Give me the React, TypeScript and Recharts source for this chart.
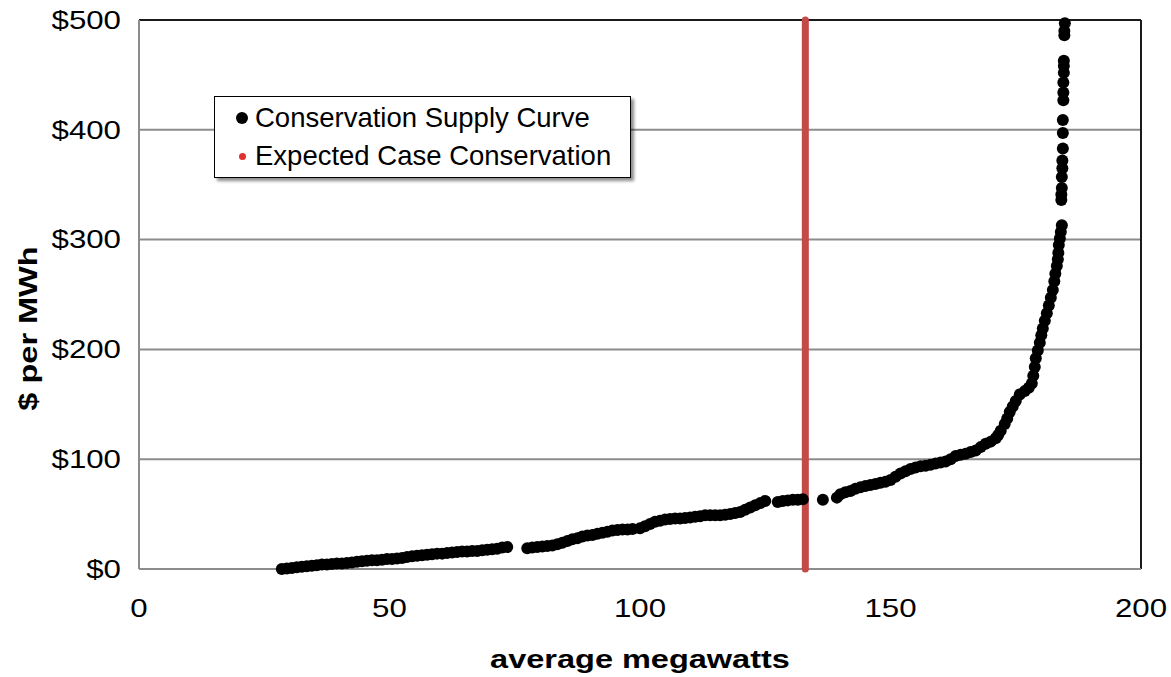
import {
  ScatterChart,
  Scatter,
  XAxis,
  YAxis,
  CartesianGrid,
  ReferenceLine,
} from "recharts";

// conservation supply curve: [average MW, $ per MWh]
const supplyCurve: [number, number][] = [
  [28.5, 0], [29.5, 0.5], [30.5, 1], [31.5, 1.5], [32.5, 2], [33.5, 2.5], [34.5, 3], [35.5, 3.5],
  [36.5, 4], [37.5, 4], [38.5, 4.5], [39.5, 5], [40.5, 5], [41.5, 5.5], [42.5, 6], [43.5, 6.5],
  [44.5, 7], [45.5, 7.5], [46.5, 8], [47.5, 8], [48.5, 8.5], [49.5, 9], [50.5, 9], [51.5, 9.5],
  [52.5, 10], [53.5, 11], [54.5, 11.5], [55.5, 12], [56.5, 12.5], [57.5, 13], [58.5, 13.5],
  [59.5, 14], [60.5, 14], [61.5, 14.5], [62.5, 15], [63.5, 15.5], [64.5, 16], [65.5, 16],
  [66.5, 16.5], [67.5, 16.5], [68.5, 17], [69.5, 17.5], [70.5, 18], [71.5, 18.5], [72.5, 19.5],
  [73.5, 20],
  [77.5, 19], [78.5, 19.5], [79.5, 20], [80.5, 20.5], [81.5, 21], [82.5, 21.5], [83.5, 22.5],
  [84.5, 24], [85.5, 25.5], [86.5, 27], [87.5, 28], [88.5, 29.5], [89.5, 30.5], [90.5, 31],
  [91.5, 32], [92.5, 33], [93.5, 34], [94.5, 35], [95.5, 35.5], [96.5, 36], [97.5, 36],
  [98.5, 36.5], [100, 37], [101, 39], [102, 41], [103, 43], [104, 44], [105, 45], [106, 45.5],
  [107, 46], [108, 46], [109, 46.5], [110, 47], [111, 47.5], [112, 48], [113, 49], [114, 49],
  [115, 49], [116, 49], [117, 49.5], [118, 50], [119, 51], [120, 52], [121, 54], [122, 56],
  [123, 58], [124, 60], [125, 62],
  [127.5, 61], [128.5, 62], [129.5, 62.5], [130.5, 63], [131.5, 63], [132.5, 63.5],
  [136.5, 63],
  [139.3, 65], [140, 68], [141, 70], [142, 71], [143, 73], [144, 74.5], [145, 75.5], [146, 76.5],
  [147, 77.5], [148, 78.5], [149, 79.5], [150, 81], [151, 84], [152, 87], [153, 89], [154, 91],
  [155, 92.5], [156, 93.5], [157, 94], [158, 95], [159, 96], [160, 97], [161, 98], [162, 100],
  [163, 103], [164, 104], [165, 105], [166, 106.5], [167, 108], [168, 111], [169, 114],
  [170, 116], [171, 119], [171.5, 122], [172, 126], [172.8, 132], [173.3, 137], [173.8, 143],
  [174.4, 148], [175, 153], [175.8, 159], [176.8, 162], [177.6, 165], [178.2, 169], [178.5, 176],
  [178.8, 184], [179, 192], [179.4, 199], [179.8, 206], [180.1, 213], [180.4, 219], [180.8, 226],
  [181.2, 233], [181.6, 240], [182, 247], [182.4, 254], [182.7, 262], [182.9, 269], [183.2, 276],
  [183.4, 282], [183.5, 288], [183.6, 295], [183.8, 301], [184, 307], [184.2, 313],
  [184.1, 336], [184.1, 341], [184.2, 347], [184.2, 357], [184.3, 365], [184.3, 372],
  [184.4, 383], [184.4, 397], [184.4, 409], [184.5, 427], [184.5, 434], [184.5, 443],
  [184.6, 452], [184.6, 458], [184.6, 463], [184.7, 486], [184.7, 490], [184.8, 497],
];

// expected case conservation: a vertical run at 133 aMW
const expectedMw = 133;
const expectedPrices = [0, 500];

const xTicks = [0, 50, 100, 150, 200];
const yTicks = [0, 100, 200, 300, 400, 500];

const curveData = supplyCurve.map(([mw, price]) => ({ mw, price }));
const expectedData = expectedPrices.map((price) => ({ mw: expectedMw, price }));

const FONT = "'Liberation Sans', Arial, sans-serif";
const STRETCH = 1.25; // text in the original is drawn a little wide

const Dot = (p: any) => <circle cx={p.cx} cy={p.cy} r={6} fill="#000" />;
const NoDot = () => <g />;

const XTick = (p: any) => (
  <g transform={`translate(${p.x},${p.y + 31}) scale(${STRETCH},1)`}>
    <text textAnchor="middle" dominantBaseline="central" fontSize={25} fontFamily={FONT} fill="#000">
      {p.payload.value}
    </text>
  </g>
);

const YTick = (p: any) => (
  <g transform={`translate(${p.x - 10},${p.y}) scale(${STRETCH},1)`}>
    <text textAnchor="end" dominantBaseline="central" fontSize={25} fontFamily={FONT} fill="#000">
      {"$" + p.payload.value}
    </text>
  </g>
);

const XTitle = (p: any) => {
  const vb = p.viewBox;
  return (
    <g transform={`translate(${vb.x + vb.width / 2},${vb.y + 90}) scale(${STRETCH},1)`}>
      <text textAnchor="middle" dominantBaseline="central" fontFamily={FONT} fontSize={26} fontWeight={700} fill="#000">
        average megawatts
      </text>
    </g>
  );
};

const YTitle = (p: any) => {
  const vb = p.viewBox;
  return (
    <g transform={`translate(28,${vb.y + vb.height / 2 + 34}) rotate(-90) scale(${STRETCH},1)`}>
      <text textAnchor="middle" dominantBaseline="central" fontFamily={FONT} fontSize={26} fontWeight={700} fill="#000">
        $ per MWh
      </text>
    </g>
  );
};

const LegendBox = () => (
  <div
    style={{
      position: "absolute",
      left: 214,
      top: 96,
      width: 383,
      border: "1.5px solid #000",
      background: "#fff",
      boxShadow: "3px 3px 3px rgba(0,0,0,0.45)",
      padding: "2px 12px 2px 20px",
      fontFamily: FONT,
      fontSize: 27.5,
      color: "#000",
      lineHeight: "38px",
      whiteSpace: "nowrap",
    }}
  >
    <div style={{ display: "flex", alignItems: "center" }}>
      <span style={{ width: 12, height: 12, borderRadius: "50%", background: "#000", marginRight: 7, marginLeft: 1 }} />
      Conservation Supply Curve
    </div>
    <div style={{ display: "flex", alignItems: "center" }}>
      <span style={{ width: 7, height: 7, borderRadius: "50%", background: "#E03030", marginRight: 9, marginLeft: 4 }} />
      Expected Case Conservation
    </div>
  </div>
);

export default function App() {
  return (
    <div style={{ position: "absolute", left: 0, top: 0, width: 1171, height: 677, background: "#fff" }}>
      <ScatterChart width={1171} height={677} margin={{ top: 20, right: 30, bottom: 0, left: 0 }}>
        <CartesianGrid horizontal vertical={false} stroke="#8c8c8c" strokeWidth={2} />
        <XAxis
          type="number"
          dataKey="mw"
          domain={[0, 200]}
          ticks={xTicks}
          height={108}
          axisLine={{ stroke: "#8c8c8c", strokeWidth: 2 }}
          tickLine={false}
          tick={<XTick />}
          label={<XTitle />}
        />
        <YAxis
          type="number"
          dataKey="price"
          domain={[0, 500]}
          ticks={yTicks}
          width={139}
          axisLine={{ stroke: "#8c8c8c", strokeWidth: 2 }}
          tickLine={false}
          tick={<YTick />}
          label={<YTitle />}
        />
        <ReferenceLine y={500} stroke="#1a1a1a" strokeWidth={2} />
        <ReferenceLine x={200} stroke="#1a1a1a" strokeWidth={2} />
        <Scatter
          name="Expected Case Conservation"
          data={expectedData}
          line={{ stroke: "#C44A48", strokeWidth: 7, strokeLinecap: "round" }}
          shape={<NoDot />}
          isAnimationActive={false}
        />
        <Scatter name="Conservation Supply Curve" data={curveData} shape={<Dot />} isAnimationActive={false} />
      </ScatterChart>
      <LegendBox />
    </div>
  );
}
